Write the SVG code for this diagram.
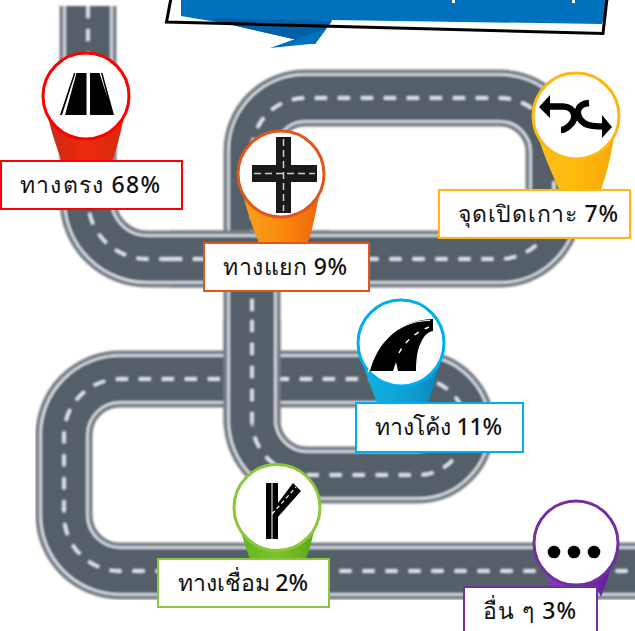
<svg xmlns="http://www.w3.org/2000/svg" xmlns:xlink="http://www.w3.org/1999/xlink" width="635" height="631" viewBox="0 0 635 631">
<style>
text{font-family:"Noto Sans","DejaVu Sans",sans-serif;font-size:23px;font-weight:500;fill:#111;text-anchor:middle}
.r1{fill:none;stroke:#777e86;stroke-width:57}
.r2{fill:none;stroke:#e4e9ee;stroke-width:49}
.r3{fill:none;stroke:#555f6b;stroke-width:44.500}
.r4{fill:none;stroke:#e4e9ee;stroke-width:3.300;stroke-dasharray:12 11}
.c{fill:#fff;stroke-width:3}
.l{fill:#fff;stroke-width:2}
.k{fill:#000}
.w{fill:none;stroke:#fff}
</style>
<defs>
<path id="road" d="M88 6V200A59 59 0 0 0 147 259H500A54 54 0 0 0 554 205V152A54 54 0 0 0 500 98H305A53 53 0 0 0 252 151V420A55 55 0 0 0 307 475H418A48 48 0 0 0 418 379H120A56 56 0 0 0 64 435V515A56 56 0 0 0 120 571H640"/>
<path id="o1" d="M170 259H330"/>
<path id="o2" d="M252 320V425"/>
<filter id="soft" x="-5%" y="-5%" width="110%" height="110%"><feGaussianBlur stdDeviation="0.8"/></filter>
<filter id="pin" x="-10%" y="-10%" width="120%" height="120%"><feGaussianBlur stdDeviation="0.7"/></filter>
<linearGradient id="gr"><stop offset="0" stop-color="#c92a12"/><stop offset=".5" stop-color="#ee2c10"/><stop offset="1" stop-color="#d42a10"/></linearGradient>
<linearGradient id="go"><stop offset="0" stop-color="#f7a11a"/><stop offset=".5" stop-color="#fb8a10"/><stop offset="1" stop-color="#f0660f"/></linearGradient>
<linearGradient id="gy"><stop offset="0" stop-color="#fcc21a"/><stop offset=".5" stop-color="#feb90f"/><stop offset="1" stop-color="#f6a70d"/></linearGradient>
<linearGradient id="gb"><stop offset="0" stop-color="#12b0e0"/><stop offset=".6" stop-color="#119fd3"/><stop offset="1" stop-color="#0d84b8"/></linearGradient>
<linearGradient id="gg"><stop offset="0" stop-color="#62b51d"/><stop offset=".5" stop-color="#7cc52a"/><stop offset="1" stop-color="#5aa81a"/></linearGradient>
<linearGradient id="gp"><stop offset="0" stop-color="#8e3cc8"/><stop offset=".6" stop-color="#7a2ab5"/><stop offset="1" stop-color="#63209a"/></linearGradient>
</defs>

<g id="connectors" filter="url(#soft)">
<use xlink:href="#road" href="#road" class="r1"/><use xlink:href="#road" href="#road" class="r2"/><use xlink:href="#road" href="#road" class="r3"/><use xlink:href="#road" href="#road" class="r4"/>
<use href="#o1" class="r1"/><use href="#o1" class="r2"/><use href="#o1" class="r3"/><use href="#o1" class="r4"/>
<use href="#o2" class="r1"/><use href="#o2" class="r2"/><use href="#o2" class="r3"/><use href="#o2" class="r4"/>
</g>

<g id="banner">
<path d="M170 -2L166 22L603 34L608 -2Z" fill="#fff"/>
<path d="M181 -2V16L228 24L315 44L332 20L602 24L609 -2Z" fill="#0071bc"/>
<path d="M228 24L315 44L332 21L210 18Z" fill="#005fa6"/>
<path d="M270 48L315 43.500L326 29L298 38Z" fill="#0071bc"/>
<path d="M171 -2L166.500 22L603 33.500L607 -2" fill="none" stroke="#000" stroke-width="3"/>
<rect x="452" y="0" width="3" height="3" fill="#fff"/><rect x="572" y="0" width="3" height="3" fill="#fff"/>
</g>

<g id="node-straight">
<path filter="url(#pin)" d="M47 112C51 132 57 148 62 162H112C117 148 121 132 125 112Z" fill="url(#gr)"/>
<circle class="c" cx="86" cy="96" r="43" stroke="#f00"/>
<path class="k" d="M76.500 73H86.500V115H65ZM90 73H99.500L113 115H90ZM74 73H75.500L62 115H60ZM101 73H102.500L114 115H112Z"/>
<rect class="l" x="1" y="161" width="181" height="48" stroke="#f00"/>
<text x="90" y="193" textLength="140">ทางตรง 68%</text>
</g>

<g id="node-junction">
<path filter="url(#pin)" d="M242 190C247 212 254 232 260 245H307C312 232 316 212 320 190Z" fill="url(#go)"/>
<circle class="c" cx="281" cy="174" r="43" stroke="#e0561f"/>
<path fill="#1a1a1a" d="M276 137H291V165H317V182H291V213H276V182H252V165H276Z"/>
<path d="M283.500 139V211M254 173.500H315" fill="none" stroke="#cfcfcf" stroke-width="1.500" stroke-dasharray="7 4"/>
<rect class="l" x="204" y="243" width="165" height="48" stroke="#e0561f"/>
<text x="285" y="275" textLength="124">ทางแยก 9%</text>
</g>

<g id="node-uturn">
<path filter="url(#pin)" d="M537 132C543 155 553 175 560 192H600C607 175 611 155 615 132Z" fill="url(#gy)"/>
<circle class="c" cx="576" cy="116" r="43" stroke="#fdb813"/>
<path d="M548 106.500H563C575 106.500 578 119 569 126C566 129 563 130 561 130M589 103C577 104 576 113 580 119C584 125 590 126.500 604 126.500" fill="none" stroke="#000" stroke-width="6.500"/>
<path class="k" d="M539 107L550 95V118ZM612 127L602 115V138Z"/>
<rect class="l" x="439" y="190" width="191" height="48" stroke="#fdb813"/>
<text x="538" y="222" textLength="160">จุดเปิดเกาะ 7%</text>
</g>

<g id="node-curve">
<path filter="url(#pin)" d="M362 360C367 378 373 393 378 405H427C432 393 436 378 440 360Z" fill="url(#gb)"/>
<circle class="c" cx="401" cy="343" r="43" stroke="#00aeef"/>
<path class="k" d="M370 371C377 345 396 320 433 319V331C422 333 417 348 416 371H398L396 362L393 371Z"/>
<path class="w" stroke-width="1.200" d="M368 372C376 345 395 321 430 320.500M421 344C417 352 417 360 417 370"/>
<path class="w" stroke-width="1.500" stroke-dasharray="5 7" d="M399 353C405 342 414 333 429 327"/>
<rect class="l" x="356" y="403" width="167" height="49" stroke="#00aeef"/>
<text x="438.500" y="435" textLength="127">ทางโค้ง 11%</text>
</g>

<g id="node-merge">
<path filter="url(#pin)" d="M240 527C243 540 247 552 251 561H305C309 552 312 540 315 527Z" fill="url(#gg)"/>
<circle class="c" cx="277" cy="507.500" r="43" stroke="#8cc63f"/>
<path class="k" d="M266 483H278V503L293 483L301 491L278 517V539H266Z"/>
<path d="M272 483V539" fill="none" stroke="#fff" stroke-width="1"/>
<path d="M272 514L296 487" fill="none" stroke="#fff" stroke-width="1.200" stroke-dasharray="4 3"/>
<rect class="l" x="158" y="559" width="171" height="48" stroke="#8cc63f"/>
<text x="243" y="591" textLength="130">ทางเชื่อม 2%</text>
</g>

<g id="node-other">
<path filter="url(#pin)" d="M540 560C544 572 550 582 555 590H598L601 597C606 585 610 572 612 560Z" fill="url(#gp)"/>
<circle class="c" cx="576" cy="543" r="42" stroke="#7030a0"/>
<circle class="k" cx="554" cy="552" r="6.300"/><circle class="k" cx="574" cy="552" r="6.300"/><circle class="k" cx="594" cy="552" r="6.300"/>
<rect class="l" x="464" y="587" width="133" height="50" stroke="#7030a0"/>
<text x="529.500" y="619" textLength="93">อื่น ๆ 3%</text>
</g>
</svg>
